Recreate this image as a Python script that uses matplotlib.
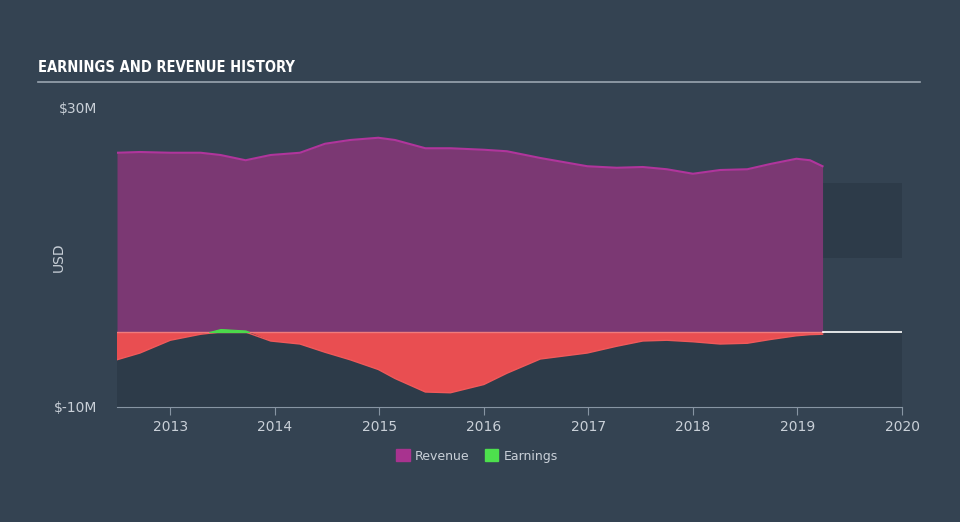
import matplotlib
matplotlib.use("Agg")
import matplotlib.pyplot as plt
import numpy as np
from matplotlib.patches import Rectangle

# Значения (млн USD)
dates = [2012.49, 2012.71, 2013.00, 2013.29, 2013.48, 2013.72, 2013.96, 2014.24,
         2014.48, 2014.72, 2014.99, 2015.15, 2015.44, 2015.68, 2016.00, 2016.22,
         2016.54, 2016.99, 2017.27, 2017.52, 2017.75, 2018.00, 2018.26, 2018.52,
         2018.74, 2018.99, 2019.12, 2019.24]
revenue = [23.9, 24.0, 23.9, 23.9, 23.6, 22.9, 23.6, 23.9,
           25.1, 25.6, 25.9, 25.6, 24.5, 24.5, 24.3, 24.1,
           23.2, 22.1, 21.9, 22.0, 21.7, 21.1, 21.6, 21.7,
           22.4, 23.1, 22.9, 22.1]
earnings = [-3.7, -2.8, -1.1, -0.3, 0.4, 0.2, -1.2, -1.6,
            -2.7, -3.7, -5.0, -6.2, -8.0, -8.1, -7.0, -5.5,
            -3.6, -2.8, -1.9, -1.2, -1.1, -1.3, -1.6, -1.5,
            -1.0, -0.5, -0.35, -0.3]
year_ticks = [2013, 2014, 2015, 2016, 2017, 2018, 2019, 2020]
y_ticks = [30, -10]
y_tick_labels = ['$30M', '$-10M']

bg = '#344352'
dark = '#2d3b49'
text_col = '#c9d0d8'

x = np.array(dates)
rev = np.array(revenue)
earn = np.array(earnings)

fig = plt.figure(figsize=(9.6, 5.22), dpi=100, facecolor=bg)
ax = fig.add_axes([117/960, 1 - 407/522, (902 - 117)/960, 300/522])
ax.set_facecolor(bg)
ax.set_xlim(x[0], 2020)
ax.set_ylim(-10, 30)

# затемнённые области фона
ax.add_patch(Rectangle((x[0], -10), 2020 - x[0], 10, color=dark, zorder=0, lw=0))
ax.add_patch(Rectangle((x[-1], 9.9), 2020 - x[-1], 10.0, color=dark, zorder=0, lw=0))

# выручка
ax.fill_between(x, 0, rev, color='#7b3873', lw=0, zorder=2)
ax.plot(x, rev, color='#b0359c', lw=1.5, zorder=3)

# прибыль
ax.fill_between(x, 0, earn, where=earn <= 0, interpolate=True, color='#e94e51', lw=0, zorder=2)
ax.plot(x, np.minimum(earn, 0), color='#f0595a', lw=1.0, zorder=3)
ax.axhline(0, xmin=0, xmax=(x[-1] - x[0]) / (2020 - x[0]), color='#f07b7b', lw=1.0, zorder=4)
ax.fill_between(x, 0, earn, where=earn >= 0, interpolate=True, color='#4bd94b', lw=0.8,
                edgecolor='#4bd94b', zorder=5)
ax.plot([x[-1], 2020], [0, 0], color='white', lw=1.2, zorder=4)

# оси
for s in ['top', 'right', 'left']:
    ax.spines[s].set_visible(False)
ax.spines['bottom'].set_color('#8795a3')
ax.set_xticks(year_ticks)
ax.set_xticklabels([str(y) for y in year_ticks])
ax.tick_params(axis='x', colors='#8795a3', labelcolor=text_col, length=6, labelsize=10)
ax.set_yticks(y_ticks)
ax.set_yticklabels(y_tick_labels)
ax.tick_params(axis='y', length=0, labelcolor=text_col, labelsize=10, pad=14)
ax.set_ylabel('USD', color=text_col, fontsize=10, labelpad=22)
ax.yaxis.set_label_coords(-0.065, 0.5)

# заголовок
fig.text(38/960, 1 - 68/522, 'EARNINGS AND REVENUE HISTORY', color='white',
         fontsize=10.5, fontweight='bold', fontstretch='condensed',
         family=['Liberation Sans Narrow', 'DejaVu Sans Condensed', 'DejaVu Sans'],
         va='center', ha='left')
fig.add_artist(plt.Line2D([38/960, 920/960], [1 - 82/522, 1 - 82/522],
                          color='#9aa5b0', lw=1.2))

# легенда
handles = [Rectangle((0, 0), 1, 1, color='#a8338f'), Rectangle((0, 0), 1, 1, color='#4de04d')]
leg = fig.legend(handles, ['Revenue', 'Earnings'], loc='center', ncol=2,
                 bbox_to_anchor=(477/960, 1 - 456/522), frameon=False,
                 handlelength=1.1, handleheight=1.1, handletextpad=0.4,
                 columnspacing=1.2, fontsize=9)
for t in leg.get_texts():
    t.set_color(text_col)

fig.savefig('out.png', dpi=100, facecolor=bg)
